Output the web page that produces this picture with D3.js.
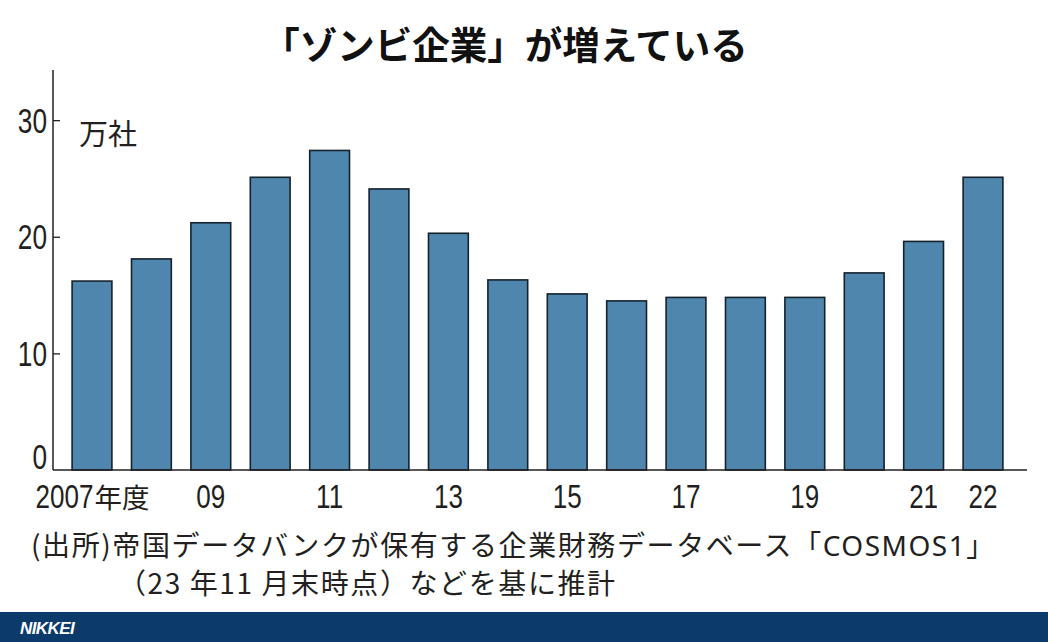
<!DOCTYPE html>
<html><head><meta charset="utf-8">
<script src="https://cdn.jsdelivr.net/npm/d3@7"></script>
<style>
html,body{margin:0;padding:0;background:#fff;}
svg{display:block;}
</style></head>
<body>
<script>
const years = ["2007","2008","2009","2010","2011","2012","2013","2014","2015","2016","2017","2018","2019","2020","2021","2022"];
const zombieCounts = [16.2,18.1,21.2,25.1,27.4,24.1,20.3,16.3,15.1,14.5,14.8,14.8,14.8,16.9,19.6,25.1];
const xTickLabels = {"2007":["2007","年度"],"2009":["09",""],"2011":["11",""],"2013":["13",""],"2015":["15",""],"2017":["17",""],"2019":["19",""],"2021":["21",""],"2022":["22",""]};
const yTicks = [0,10,20,30];
const titleText = "「ゾンビ企業」が増えている";
const unitText = "万社";
const sourceLine1 = ["(出所)帝国データバンクが保有する企業財務データベース「", "COSMOS1", "」"];
const sourceLine2 = "（23 年11 月末時点）などを基に推計";

const W = 1048, H = 642;
const NUM = "'Liberation Sans','Arial',sans-serif";
const JP = "'Noto Sans CJK JP','Noto Sans',sans-serif";
const INK = "#231f20";
const SX = 0.75, SXX = 0.8;

const svg = d3.select("body").append("svg").attr("width", W).attr("height", H);

const x = d3.scaleBand().domain(years).range([62.3, 1012.7]).paddingInner(0.33).paddingOuter(0.165);
const y = d3.scaleLinear().domain([0, 34.3]).range([470, 70]);

// title
svg.append("text").attr("x", 505).attr("y", 59).attr("text-anchor","middle")
  .attr("font-family", JP).attr("font-weight", 700).attr("font-size", 37.5).attr("fill", "#111")
  .text(titleText);

// bars
svg.append("g").selectAll("rect").data(years).join("rect")
  .attr("x", d => x(d)).attr("width", x.bandwidth())
  .attr("y", (d,i) => y(zombieCounts[i])).attr("height", (d,i) => y(0) - y(zombieCounts[i]))
  .attr("fill", "#4e86ad").attr("stroke", "#15222c").attr("stroke-width", 1.6);

// y axis
const yAxis = svg.append("g").attr("transform", "translate(53,0)")
  .call(d3.axisRight(y).tickValues(yTicks).tickSize(7).tickFormat(""));
yAxis.select(".domain").remove();
yAxis.selectAll(".tick line").attr("stroke", INK).attr("stroke-width", 1.3);
yAxis.selectAll(".tick").filter(d => d === 0).remove();
svg.append("line").attr("x1", 53).attr("x2", 53).attr("y1", y.range()[1]).attr("y2", y(0))
  .attr("stroke", INK).attr("stroke-width", 1.5);

svg.append("g").selectAll("g").data(yTicks).join("g")
  .attr("transform", d => `translate(47,${d === 0 ? y(0) - 1 : y(d) + 12.5}) scale(${SX},1)`)
  .append("text").attr("text-anchor", "end").attr("font-family", NUM).attr("font-size", 35).attr("fill", INK)
  .text(d => d);

// x axis baseline
const xAxis = svg.append("g").attr("transform", "translate(0,470)")
  .call(d3.axisBottom(x).tickSize(0).tickFormat(""));
xAxis.select(".domain").remove();
svg.append("line").attr("x1", 53).attr("x2", 1027).attr("y1", y(0)).attr("y2", y(0))
  .attr("stroke", INK).attr("stroke-width", 1.5);

const xl = svg.append("g").selectAll("g").data(Object.keys(xTickLabels)).join("g")
  .attr("transform", d => `translate(${x(d) + x.bandwidth()/2},508)`);
xl.each(function(d) {
  const g = d3.select(this);
  const num = g.append("text").attr("font-family", NUM).attr("font-size", 32.5).attr("fill", INK)
    .attr("transform", `scale(${SXX},1)`).text(xTickLabels[d][0]);
  const cjk = g.append("text").attr("font-family", JP).attr("font-size", 27.5).attr("fill", INK)
    .text(xTickLabels[d][1]);
  const wn = num.node().getComputedTextLength() * SXX;
  const wc = xTickLabels[d][1] ? cjk.node().getComputedTextLength() : 0;
  const total = wn + wc;
  num.attr("x", (-total/2) / SXX);
  cjk.attr("x", -total/2 + wn + 1);
});

// unit
svg.append("text").attr("x", 79).attr("y", 145).attr("font-family", JP).attr("font-size", 29)
  .attr("fill", INK).text(unitText);

// source
const s1 = svg.append("text").attr("x", 31).attr("y", 556).attr("font-family", JP).attr("font-size", 28)
  .attr("fill", INK).attr("letter-spacing", 1.6);
s1.append("tspan").text(sourceLine1[0]);
s1.append("tspan").attr("font-family", "'Noto Sans',sans-serif").attr("font-size", 28).attr("letter-spacing", 1.5).text(sourceLine1[1]);
s1.append("tspan").text(sourceLine1[2]);
svg.append("text").attr("x", 118).attr("y", 594).attr("font-family", JP).attr("font-size", 28)
  .attr("fill", INK).attr("letter-spacing", 1.6).text(sourceLine2);

// footer band
svg.append("rect").attr("x", 0).attr("y", 612).attr("width", W).attr("height", H - 612).attr("fill", "#0b3a6b");
svg.append("text").attr("x", 20).attr("y", 633.5).attr("font-family", "'Liberation Sans','Arial',sans-serif")
  .attr("font-style", "italic").attr("font-weight", 700).attr("font-size", 17).attr("fill", "#fff")
  .attr("letter-spacing", -0.6).text("NIKKEI");
</script>
</body></html>
